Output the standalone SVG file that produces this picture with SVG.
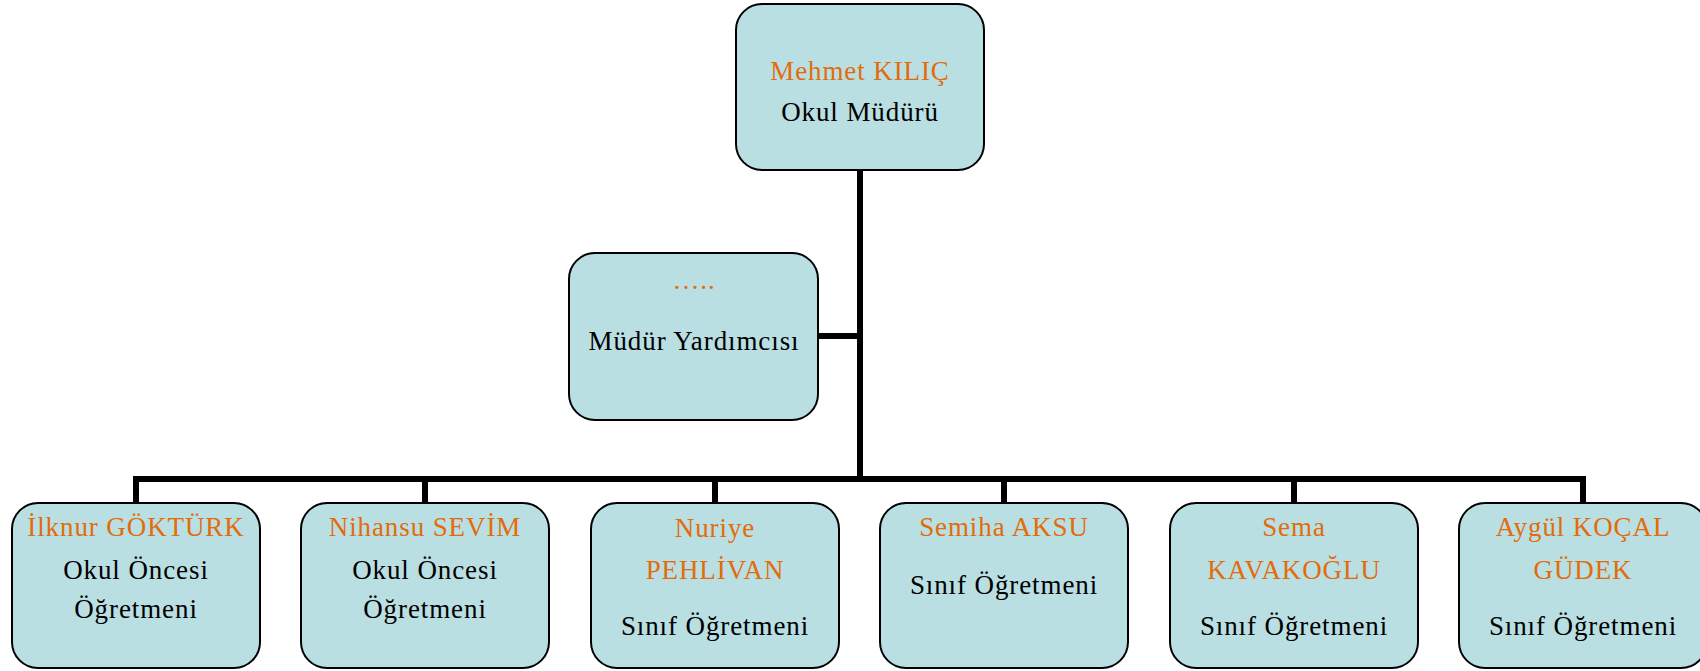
<svg xmlns="http://www.w3.org/2000/svg" width="1700" height="671" viewBox="0 0 1700 671">
<style>
.box{fill:#B9DFE3;stroke:#000;stroke-width:2}
.t{font-family:"Liberation Serif","Times New Roman",serif;font-size:27px;text-anchor:middle;letter-spacing:0.9px}
.n{fill:#E36C0A}
.r{fill:#000}
.c{fill:none;stroke:#000;stroke-width:6;stroke-linejoin:miter;stroke-linecap:butt}
</style>
<rect width="1700" height="671" fill="#fff"/>
<g id="connectors">
<path class="c" d="M860 170 V479"/>
<path class="c" d="M818 336 H860"/>
<path class="c" d="M136 503 V479 H1583 V503"/>
<path class="c" d="M425 479 V503 M715 479 V503 M1004 479 V503 M1294 479 V503"/>
</g>
<g id="mudur">
<rect class="box" x="736" y="4" width="248" height="166" rx="26"/>
<text class="t n" x="860" y="80">Mehmet KILIÇ</text>
<text class="t r" x="860" y="121">Okul Müdürü</text>
</g>
<g id="yardimci">
<rect class="box" x="569" y="253" width="249" height="167" rx="26"/>
<text class="t n" x="694" y="289">…..</text>
<text class="t r" x="694" y="350">Müdür Yardımcısı</text>
</g>
<g id="ilknur">
<rect class="box" x="12" y="503" width="248" height="165" rx="26"/>
<text class="t n" x="136" y="536">İlknur GÖKTÜRK</text>
<text class="t r" x="136" y="579">Okul Öncesi</text>
<text class="t r" x="136" y="618">Öğretmeni</text>
</g>
<g id="nihansu">
<rect class="box" x="301" y="503" width="248" height="165" rx="26"/>
<text class="t n" x="425" y="536">Nihansu SEVİM</text>
<text class="t r" x="425" y="579">Okul Öncesi</text>
<text class="t r" x="425" y="618">Öğretmeni</text>
</g>
<g id="nuriye">
<rect class="box" x="591" y="503" width="248" height="165" rx="26"/>
<text class="t n" x="715" y="537">Nuriye</text>
<text class="t n" x="715" y="579">PEHLİVAN</text>
<text class="t r" x="715" y="635">Sınıf Öğretmeni</text>
</g>
<g id="semiha">
<rect class="box" x="880" y="503" width="248" height="165" rx="26"/>
<text class="t n" x="1004" y="536">Semiha AKSU</text>
<text class="t r" x="1004" y="594">Sınıf Öğretmeni</text>
</g>
<g id="sema">
<rect class="box" x="1170" y="503" width="248" height="165" rx="26"/>
<text class="t n" x="1294" y="536">Sema</text>
<text class="t n" x="1294" y="579">KAVAKOĞLU</text>
<text class="t r" x="1294" y="635">Sınıf Öğretmeni</text>
</g>
<g id="aygul">
<rect class="box" x="1459" y="503" width="248" height="165" rx="26"/>
<text class="t n" x="1583" y="536">Aygül KOÇAL</text>
<text class="t n" x="1583" y="579">GÜDEK</text>
<text class="t r" x="1583" y="635">Sınıf Öğretmeni</text>
</g>
</svg>
